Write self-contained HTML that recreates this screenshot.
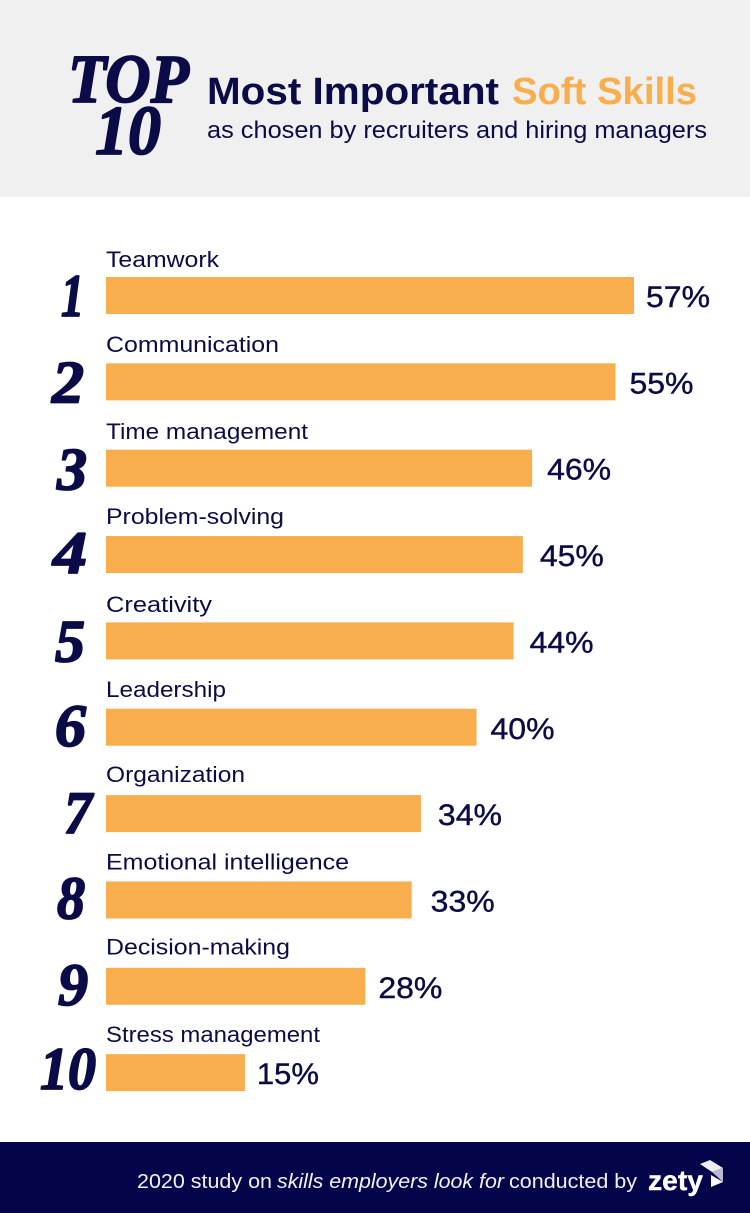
<!DOCTYPE html>
<html lang="en">
<head>
<meta charset="utf-8">
<title>Top 10 Most Important Soft Skills</title>
<style>
html,body{margin:0;padding:0;background:#fff}
svg{display:block}
text{font-family:"Liberation Sans",sans-serif}
.serif{font-family:"Liberation Serif",serif;font-weight:700;font-style:italic;fill:#0b0b47;stroke:#0b0b47;stroke-width:1.8px;stroke-linejoin:round}
</style>
</head>
<body>
<svg id="chart" xmlns="http://www.w3.org/2000/svg" width="750" height="1213" viewBox="0 0 750 1213">
  <rect x="0" y="0" width="750" height="1213" fill="#ffffff"/>
  <g>
    <rect x="0" y="0" width="750" height="197" fill="#f0f0f0"/>
    <text class="serif" x="68" y="102" font-size="69" textLength="121" lengthAdjust="spacingAndGlyphs">TOP</text>
    <text class="serif" x="95" y="154" font-size="70" textLength="66" lengthAdjust="spacingAndGlyphs">10</text>
    <text x="207" y="104" font-size="38" font-weight="700" fill="#0b0b47" textLength="292" lengthAdjust="spacingAndGlyphs">Most Important</text>
    <text x="512" y="104" font-size="38" font-weight="700" fill="#f8ae4d" textLength="185" lengthAdjust="spacingAndGlyphs">Soft Skills</text>
    <text x="207" y="138" font-size="24" fill="#0b0b47" textLength="500" lengthAdjust="spacingAndGlyphs">as chosen by recruiters and hiring managers</text>
  </g>
  <g id="bars"></g>
  <g>
    <rect x="0" y="1142" width="750" height="71" fill="#04044a"/>
    <text x="137" y="1188" font-size="20" fill="#f2f2f6" textLength="135" lengthAdjust="spacingAndGlyphs">2020 study on</text>
    <text x="277" y="1188" font-size="20" font-style="italic" fill="#f2f2f6" textLength="227" lengthAdjust="spacingAndGlyphs">skills employers look for</text>
    <text x="509" y="1188" font-size="20" fill="#f2f2f6" textLength="128" lengthAdjust="spacingAndGlyphs">conducted by</text>
    <text x="648" y="1190" font-size="28" font-weight="700" fill="#ffffff" stroke="#ffffff" stroke-width="0.4" textLength="55" lengthAdjust="spacingAndGlyphs">zety</text>
    <polygon points="700,1164 710,1160 723,1168 712,1172" fill="#eeeef4"/>
    <polygon points="712,1172 723,1168 723,1182" fill="#b9b9d2"/>
    <polygon points="711,1175 723,1182 711,1187" fill="#ffffff"/>
  </g>
</svg>
<script>
const categories = ["Teamwork", "Communication", "Time management", "Problem-solving", "Creativity", "Leadership", "Organization", "Emotional intelligence", "Decision-making", "Stress management"];
const seriesValues = [57, 55, 46, 45, 44, 40, 34, 33, 28, 15];
const ranks = ["1", "2", "3", "4", "5", "6", "7", "8", "9", "10"];

const SVG_NS = "http://www.w3.org/2000/svg";
const root = document.getElementById("bars");
const X0 = 106;
const PX_PER_POINT = 528 / 57;
const ROW_TOP = 277;
const ROW_STEP = 86.35;
const BAR_HEIGHT = 37;

// Layout tweaks, kept apart from the data.
const valueGaps = [12, 14, 15, 17, 16, 14, 17, 19, 13, 12];
const valueWidths = [64, 64, 64, 64, 64, 64, 64, 64, 64, 62];
const labelRise = [10, 11.5, 10.7, 12, 10.5, 12, 13, 12, 13.5, 12];
const rankLefts = [61, 52, 57, 53, 55, 55, 64, 57, 58, 40];
const rankWidths = [23, 32, 30, 34, 30, 31, 28, 28, 30, 56];
const rankDrop = [39, 39, 40, 37, 39, 37, 38, 37, 37, 35];
const labelWidths = [113, 173, 202, 178, 106, 120, 139, 243, 184, 214];

function xScale(v) { return v * PX_PER_POINT; }
function yScale(i) { return ROW_TOP + i * ROW_STEP; }

function make(tag, attrs, text) {
  const el = document.createElementNS(SVG_NS, tag);
  Object.keys(attrs).forEach(function (k) { el.setAttribute(k, attrs[k]); });
  if (text !== undefined) el.textContent = text;
  root.appendChild(el);
  return el;
}

categories.forEach(function (name, i) {
  const v = seriesValues[i];
  const y = yScale(i);
  const w = xScale(v);

  const rank = make("text", { class: "serif", x: rankLefts[i], y: y + rankDrop[i], "font-size": 60, textLength: rankWidths[i], lengthAdjust: "spacingAndGlyphs" }, ranks[i]);
  
  

  const label = make("text", { x: X0, y: y - labelRise[i], "font-size": 22, fill: "#0b0b47", textLength: labelWidths[i], lengthAdjust: "spacingAndGlyphs" }, name);
  
  

  const bar = make("rect", { x: X0, y: y, width: w, height: BAR_HEIGHT, fill: "#f8ae4d" });
  
  

  const value = make("text", { x: X0 + w + valueGaps[i], y: y + 30, "font-size": 30, fill: "#0b0b47", stroke: "#0b0b47", "stroke-width": 0.4, textLength: valueWidths[i], lengthAdjust: "spacingAndGlyphs" }, v + "%");
  
  
});
</script>
</body>
</html>
